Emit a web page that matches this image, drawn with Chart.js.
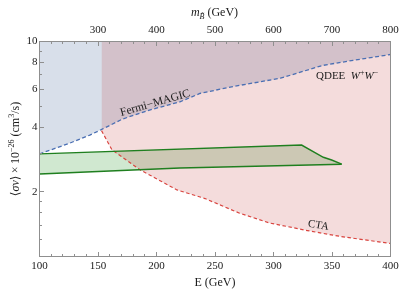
<!DOCTYPE html>
<html><head><meta charset="utf-8">
<script src="https://cdn.jsdelivr.net/npm/chart.js@4/dist/chart.umd.min.js"></script>
<style>html,body{margin:0;padding:0;background:#fff;}#wrap{width:407px;height:298px;}</style>
</head><body><div id="wrap"><canvas id="c" width="407" height="298"></canvas></div>
<script>
// ---- data (E in GeV, <sigma v> in 1e-26 cm^3/s) ----
const blueE = [100, 126, 143, 154, 171, 194, 220, 237, 263, 306, 342, 368, 400];
const blueV = [3.0, 3.37, 3.67, 3.92, 4.36, 4.8, 5.24, 5.73, 6.14, 6.75, 7.74, 8.17, 8.7];
const redE = [153, 162, 186, 217.5, 241.5, 271, 297, 329, 357, 400];
const redV = [3.85, 3.13, 2.53, 2.04, 1.86, 1.59, 1.43, 1.32, 1.24, 1.15];
const greenUpE = [100, 324, 342.6, 349.7, 358.3];
const greenUpV = [3.0, 3.30, 2.895, 2.81, 2.687];
const greenLoE = [100, 220, 358.3];
const greenLoV = [2.42, 2.58, 2.687];
const xTicks = [100, 150, 200, 250, 300, 350, 400];
const xMinor = [110,120,130,140,160,170,180,190,210,220,230,240,260,270,280,290,310,320,330,340,360,370,380,390];
const topTicks = [300, 400, 500, 600, 700, 800];
const topMinor = [220,240,260,280,320,340,360,380,420,440,460,480,520,540,560,580,620,640,660,680,720,740,760,780];
const yTicks = [2, 4, 6, 8, 10];
const yMinor = [1.2, 1.4, 1.6, 1.8, 3, 5, 7, 9];

const xy = (xs, ys) => xs.map((x, i) => ({x: x, y: ys[i]}));
const SERIF = "'Liberation Serif', 'DejaVu Serif', serif";
const tickFont = {family: SERIF, size: 11};

function rich(ctx, runs, x, y, align) {
  let w = 0;
  runs.forEach(r => { ctx.font = r.f; r.w = ctx.measureText(r.t).width; w += r.w; });
  let cx = align === 'center' ? x - w / 2 : x;
  ctx.textAlign = 'left'; ctx.textBaseline = 'alphabetic';
  runs.forEach(r => { ctx.font = r.f; ctx.fillText(r.t, cx, y + (r.dy || 0)); cx += r.w; });
}

const deco = {
  id: 'deco',
  afterDraw(chart) {
    const {ctx, chartArea: a, scales} = chart;
    const X = scales.x, X2 = scales.x2, Y = scales.y;
    ctx.save();
    ctx.strokeStyle = '#8f8f8f'; ctx.lineWidth = 1;
    ctx.strokeRect(a.left, a.top, a.right - a.left, a.bottom - a.top);
    const snap = p => Math.round(p - 0.5) + 0.5;
    ctx.beginPath();
    xTicks.forEach(v => { const p = snap(X.getPixelForValue(v)); ctx.moveTo(p, a.bottom); ctx.lineTo(p, a.bottom - 4.5); });
    xMinor.forEach(v => { const p = snap(X.getPixelForValue(v)); ctx.moveTo(p, a.bottom); ctx.lineTo(p, a.bottom - 2.5); });
    topTicks.forEach(v => { const p = snap(X2.getPixelForValue(v)); ctx.moveTo(p, a.top); ctx.lineTo(p, a.top + 4.5); });
    topMinor.forEach(v => { const p = snap(X2.getPixelForValue(v)); ctx.moveTo(p, a.top); ctx.lineTo(p, a.top + 2.5); });
    yTicks.forEach(v => { const p = snap(Y.getPixelForValue(v)); ctx.moveTo(a.left, p); ctx.lineTo(a.left + 4.5, p); });
    yMinor.forEach(v => { const p = snap(Y.getPixelForValue(v)); ctx.moveTo(a.left, p); ctx.lineTo(a.left + 2.5, p); });
    ctx.stroke();

    ctx.fillStyle = '#1a1a1a';
    const R = s => s + 'px ' + SERIF, I = s => 'italic ' + s + 'px ' + SERIF;
    // bottom title
    rich(ctx, [{t: 'E (GeV)', f: R(12)}], 215, 286, 'center');
    // top title
    rich(ctx, [{t: 'm', f: I(12)}, {t: 'B\u0303', f: I(8), dy: 3}, {t: ' (GeV)', f: R(12)}], 214.5, 16, 'center');
    // y title
    ctx.save(); ctx.translate(19, 149); ctx.rotate(-Math.PI / 2);
    rich(ctx, [{t: '\u27E8', f: R(12)}, {t: '\u03C3v', f: I(12)}, {t: '\u27E9', f: R(12)}, {t: '\u2009\u00D7\u200910', f: R(12)},
      {t: '\u221226', f: R(8), dy: -5}, {t: ' (cm', f: R(12)}, {t: '3', f: R(8), dy: -5}, {t: '/s)', f: R(12)}], 0, 0, 'center');
    ctx.restore();
    // annotations
    ctx.save(); ctx.translate(156, 106); ctx.rotate(-16 * Math.PI / 180);
    ctx.font = R(11.5); ctx.textAlign = 'center'; ctx.textBaseline = 'alphabetic';
    ctx.fillText('Fermi\u2212MAGIC', 0, 0);
    ctx.restore();
    rich(ctx, [{t: 'QDEE\u2002', f: R(11)}, {t: 'W', f: I(11)}, {t: '+', f: R(8), dy: -4}, {t: 'W', f: I(11)}, {t: '\u2212', f: R(8), dy: -4}], 316, 78.5, 'left');
    ctx.save(); ctx.translate(318.5, 225.5); ctx.rotate(10 * Math.PI / 180);
    ctx.font = R(11); ctx.textAlign = 'center'; ctx.textBaseline = 'middle';
    ctx.fillText('CTA', 0, 0);
    ctx.restore();
    ctx.restore();
  }
};

const base = {pointRadius: 0, pointHoverRadius: 0, tension: 0, fill: false};
new Chart(document.getElementById('c'), {
  type: 'line',
  data: {
    datasets: [
      Object.assign({}, base, {label: 'blueFill', data: xy(blueE, blueV), fill: 'end', backgroundColor: 'rgba(60,95,150,0.2)', borderWidth: 0, order: 10}),
      Object.assign({}, base, {label: 'greenFill', data: xy(greenUpE, greenUpV), fill: '+1', backgroundColor: 'rgba(20,140,20,0.2)', borderWidth: 0, order: 9}),
      Object.assign({}, base, {label: 'greenFillLo', data: xy(greenLoE, greenLoV), borderWidth: 0, order: 8.5}),
      Object.assign({}, base, {label: 'pinkFill', data: xy(redE, redV), fill: 'end', backgroundColor: 'rgba(182,22,22,0.15)', borderWidth: 0, order: 8}),
      Object.assign({}, base, {label: 'Fermi-MAGIC', data: xy(blueE, blueV), borderColor: '#4a6fb3', borderWidth: 1.3, borderDash: [4, 2.5], order: 3}),
      Object.assign({}, base, {label: 'CTA', data: xy(redE, redV), borderColor: '#d9443f', borderWidth: 1.2, borderDash: [3.5, 2.5], order: 3}),
      Object.assign({}, base, {label: 'QDEE up', data: xy(greenUpE, greenUpV), borderColor: '#1f7f1f', borderWidth: 1.4, order: 2}),
      Object.assign({}, base, {label: 'QDEE lo', data: xy(greenLoE, greenLoV), borderColor: '#1f7f1f', borderWidth: 1.4, order: 2})
    ]
  },
  options: {
    responsive: false, devicePixelRatio: 1, animation: false,
    layout: {padding: {left: 0, right: 16.5, top: 0, bottom: 0}},
    plugins: {legend: {display: false}, tooltip: {enabled: false}, filler: {propagate: false}},
    events: [],
    scales: {
      x: {type: 'linear', position: 'bottom', min: 100, max: 400,
        afterBuildTicks: s => { s.ticks = xTicks.map(v => ({value: v})); },
        afterFit: s => { s.height = 41.5; },
        grid: {display: false, drawTicks: false}, border: {display: false},
        ticks: {font: tickFont, color: '#1a1a1a', padding: 3, maxRotation: 0, autoSkip: false, callback: v => String(v)}},
      x2: {type: 'linear', position: 'top', min: 200, max: 800,
        afterBuildTicks: s => { s.ticks = topTicks.map(v => ({value: v})); },
        afterFit: s => { s.height = 41.5; },
        grid: {display: false, drawTicks: false}, border: {display: false},
        ticks: {font: tickFont, color: '#1a1a1a', padding: 5, maxRotation: 0, autoSkip: false, callback: v => String(v)}},
      y: {type: 'logarithmic', position: 'left', min: 1, max: 10,
        afterBuildTicks: s => { s.ticks = yTicks.map(v => ({value: v})); },
        afterFit: s => { s.width = 39.5; },
        grid: {display: false, drawTicks: false}, border: {display: false},
        ticks: {font: tickFont, color: '#1a1a1a', padding: 2, autoSkip: false, callback: v => String(v)}}
    }
  },
  plugins: [deco]
});
</script></body></html>
